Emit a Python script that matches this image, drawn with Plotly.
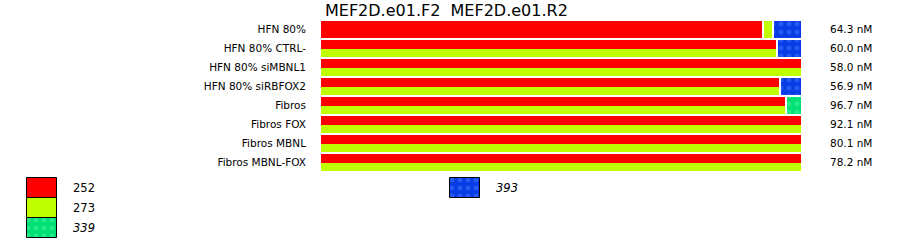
import plotly.graph_objects as go

# ---------------- data ----------------
categories = ["HFN 80%", "HFN 80% CTRL-", "HFN 80% siMBNL1", "HFN 80% siRBFOX2",
              "Fibros", "Fibros FOX", "Fibros MBNL", "Fibros MBNL-FOX"]
concentrations = ["64.3 nM", "60.0 nM", "58.0 nM", "56.9 nM",
                  "96.7 nM", "92.1 nM", "80.1 nM", "78.2 nM"]
title_text = "MEF2D.e01.F2  MEF2D.e01.R2"

# one entry per bar segment: category index, F2 fragment, R2 fragment, percent
seg_category = [0, 0, 0, 1, 1, 2, 3, 3, 4, 4, 5, 6, 7]
seg_f2 = [252, 273, 393, 252, 393, 252, 252, 393, 252, 339, 252, 252, 252]
seg_r2 = [252, 273, 393, 273, 393, 273, 273, 393, 273, 339, 273, 273, 273]
seg_pct = [92.1, 2.1, 5.8, 95.0, 5.0, 100.0, 95.6, 4.4, 96.9, 3.1, 100.0, 100.0, 100.0]

legend_labels = [252, 273, 339, 393]
legend_italic = [False, False, True, True]

# ---------------- styles / layout ----------------
W, H = 900, 242
PLOT_L, PLOT_R = 321, 801
PLOT_T, PLOT_B = 20, 172
BAR_FRAC = 17 / 19
GAP = 2 * 100.0 / (PLOT_R - PLOT_L)
FONT = "DejaVu Sans"

STYLE = {
    252: dict(color="#ff0000"),
    273: dict(color="#c0ff00"),
    339: dict(color="#00e074",
              pattern=dict(shape=".", fgcolor="#45f59c", size=8, solidity=0.3)),
    393: dict(color="#0a3ce6",
              pattern=dict(shape=".", fgcolor="#3c78ff", size=8, solidity=0.3)),
}
# legend placement: (left px, top px) for each label
LEGEND_POS = {252: (27, 178), 273: (27, 198), 339: (27, 218), 393: (450, 178)}
LEG_W, LEG_H = 30, 20

# ---------------- build segments ----------------
parts = {k: dict(y=[], base=[], x=[], width=[]) for k in legend_labels}
cum = {}
for ci, f2, r2, p in zip(seg_category, seg_f2, seg_r2, seg_pct):
    start = cum.get(ci, 0.0)
    end = start + p
    cum[ci] = end
    s = start + (GAP / 2 if start > 1e-9 else 0)
    e = end - (GAP / 2 if end < 100 - 1e-6 else 0)
    if f2 == r2:
        pieces = [(f2, ci, BAR_FRAC)]
    else:
        pieces = [(f2, ci - BAR_FRAC / 4, BAR_FRAC / 2),
                  (r2, ci + BAR_FRAC / 4, BAR_FRAC / 2)]
    for lab, yy, ww in pieces:
        parts[lab]["y"].append(yy)
        parts[lab]["width"].append(ww)
        parts[lab]["base"].append(s)
        parts[lab]["x"].append(e - s)

fig = go.Figure()
for lab in legend_labels:
    d = parts[lab]
    if not d["y"]:
        continue
    fig.add_trace(go.Bar(
        orientation="h", y=d["y"], x=d["x"], base=d["base"], width=d["width"],
        marker=dict(line=dict(width=0), **STYLE[lab]),
        showlegend=False, hoverinfo="skip", xaxis="x", yaxis="y"))

# invisible trace for right-hand axis
fig.add_trace(go.Scatter(x=[None], y=[None], xaxis="x", yaxis="y3",
                         showlegend=False, hoverinfo="skip"))

# legend swatches (pixel-coordinate overlay axes)
for lab, it in zip(legend_labels, legend_italic):
    lx, ly = LEGEND_POS[lab]
    fig.add_trace(go.Bar(
        orientation="h", y=[ly + LEG_H / 2], x=[LEG_W], base=[lx], width=[LEG_H],
        marker=dict(line=dict(width=1, color="#000000"), **STYLE[lab]),
        showlegend=False, hoverinfo="skip", xaxis="x2", yaxis="y2"))
    fig.add_annotation(
        x=lx + LEG_W + 14, y=ly + LEG_H / 2 - 0.5, xref="x2", yref="y2",
        text=f"<i>{lab}</i>" if it else str(lab), showarrow=False,
        xanchor="left", yanchor="middle",
        font=dict(family=FONT, size=11.5, color="#000000"))

fig.add_annotation(
    x=(PLOT_L + 2) / W, y=1 - 11 / H, xref="paper", yref="paper",
    text=title_text, showarrow=False, xanchor="left", yanchor="middle",
    font=dict(family=FONT, size=16, color="#000000"))

n = len(categories)
ydom = [1 - PLOT_B / H, 1 - PLOT_T / H]
fig.update_layout(
    width=W, height=H, margin=dict(l=0, r=0, t=0, b=0, pad=0),
    paper_bgcolor="white", plot_bgcolor="rgba(0,0,0,0)",
    barmode="overlay", bargap=0,
    font=dict(family=FONT, size=10.5, color="#000000"),
    xaxis=dict(domain=[PLOT_L / W, PLOT_R / W], range=[0, 100], visible=False,
               fixedrange=True),
    yaxis=dict(domain=ydom, range=[n - 0.5, -0.5], tickmode="array",
               tickvals=list(range(n)), ticktext=categories, showgrid=False,
               zeroline=False, showline=False, ticks="", ticklabelstandoff=14,
               automargin=False, tickfont=dict(family=FONT, size=10.5)),
    yaxis3=dict(overlaying="y", side="right", anchor="x",
                range=[n - 0.5, -0.5], tickmode="array",
                tickvals=list(range(n)), ticktext=concentrations, showgrid=False,
                zeroline=False, showline=False, ticks="", ticklabelstandoff=28,
                automargin=False, tickfont=dict(family=FONT, size=10.5)),
    xaxis2=dict(domain=[0, 1], range=[0, W], visible=False, anchor="y2"),
    yaxis2=dict(domain=[0, 1], range=[H, 0], visible=False, anchor="x2"),
)

fig.write_html("out.html")
